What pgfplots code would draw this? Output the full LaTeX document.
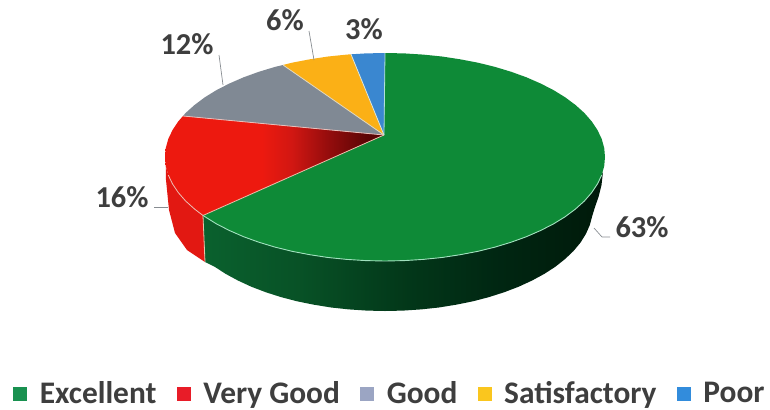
\documentclass[border=0pt]{standalone}
\usepackage{fontspec}
\setmainfont{Carlito}
\usepackage{pgfplots}
\pgfplotsset{compat=1.18}

\definecolor{cGreen}{RGB}{14,138,55}
\definecolor{cGrey}{RGB}{128,137,148}
\definecolor{cYellow}{RGB}{251,176,22}
\definecolor{cBlue}{RGB}{58,135,208}
\definecolor{cText}{RGB}{62,62,62}
\definecolor{cLeader}{RGB}{135,140,145}
\definecolor{lgGreen}{RGB}{25,145,80}
\definecolor{lgRed}{RGB}{232,28,40}
\definecolor{lgGrey}{RGB}{155,165,195}
\definecolor{lgYellow}{RGB}{250,198,30}
\definecolor{lgBlue}{RGB}{50,140,220}

% the path's bounding box takes the middle 25bp..75bp of a shading
\pgfdeclarehorizontalshading{redtop}{100bp}{
  rgb(0bp)=(0.93,0.10,0.06);
  rgb(47bp)=(0.93,0.10,0.06);
  rgb(54bp)=(0.82,0.09,0.07);
  rgb(62bp)=(0.59,0.05,0.05);
  rgb(71bp)=(0.36,0.02,0.02);
  rgb(100bp)=(0.30,0.02,0.02)}
\pgfdeclarehorizontalshading{greenwall}{100bp}{
  rgb(0bp)=(0.04,0.38,0.18);
  rgb(25bp)=(0.04,0.38,0.18);
  rgb(37bp)=(0.03,0.32,0.15);
  rgb(50bp)=(0.01,0.22,0.10);
  rgb(62bp)=(0,0.15,0.07);
  rgb(75bp)=(0,0.10,0.04);
  rgb(100bp)=(0,0.10,0.04)}

\begin{document}
\begin{tikzpicture}
\begin{axis}[
    name=chart,
    scale only axis,
    width=770bp,
    height=409bp,
    xmin=0, xmax=770,
    ymin=0, ymax=409,
    y dir=reverse,
    hide axis,
    clip=false,
    legend columns=5,
    legend image code/.code={\path[fill,#1] (0bp,-6.5bp) rectangle (13bp,6.5bp);},
    legend style={
        at={(axis cs:390,393.5)}, anchor=center,
        draw=none, fill=none,
        inner sep=0pt,
        font=\fontsize{31.5}{32}\selectfont\bfseries\color{cText},
        /tikz/every even column/.append style={column sep=18.5bp},
        /tikz/every odd column/.append style={column sep=11bp},
    },
]

% side walls
\addplot[forget plot, draw=none, shading=greenwall] coordinates {
(203,215.5) (216.5,223.9) (229.4,230.5) (243.6,236.7) (258.8,242.2) (275,247.1) (292,251.3) (309.8,254.7) (328.1,257.5) (346.8,259.4) (365.8,260.6) (385,261)
(404.2,260.6) (423.2,259.4) (441.9,257.5) (460.2,254.7) (478,251.3) (495,247.1) (511.2,242.2) (526.4,236.7) (540.6,230.5) (553.5,223.9) (565.2,216.7) (575.5,209) (584.4,201) (591.7,192.6) (597.5,183.9) (601.7,175.1) (603,172)
(601.5,185) (598.5,197) (595,207) (592.2,216.1) (589.8,225.1) (585.9,233.9) (580.5,242.6) (573.5,251) (565.1,259) (555.4,266.7) (544.3,273.9) (532.1,280.5) (518.7,286.7) (504.3,292.2) (489,297.1) (472.9,301.3) (456.1,304.7) (438.8,307.5) (421.1,309.4) (403.1,310.6) (385,311)
(366.9,310.6) (348.9,309.4) (331.2,307.5) (313.9,304.7) (297.1,301.3) (281,297.1) (265.7,292.2) (251.3,286.7) (237.9,280.5) (225.7,273.9) (214.6,266.7) (205,262)
};
\addplot[forget plot, draw=none, fill={rgb,255:red,226;green,24;blue,18}] coordinates {
(165.8,166.1) (168.3,175.1) (172.5,183.9) (178.3,192.6) (185.6,201) (194.5,209) (203,215.5) (205,262) (187,250) (175,233) (169,210) (166,180)
};

% top: Excellent 63%
\addplot[forget plot, draw=none, fill=cGreen] coordinates {
(384,135) (385,53) (404.2,53.4) (423.2,54.6) (441.9,56.5) (460.2,59.3) (478,62.7) (495,66.9) (511.2,71.8) (526.4,77.3) (540.6,83.5) (553.5,90.1) (565.2,97.3) (575.5,105) (584.4,113) (591.7,121.4) (597.5,130.1) (601.7,138.9) (604.2,147.9) (605,157)
(604.2,166.1) (601.7,175.1) (597.5,183.9) (591.7,192.6) (584.4,201) (575.5,209) (565.2,216.7) (553.5,223.9) (540.6,230.5) (526.4,236.7) (511.2,242.2) (495,247.1) (478,251.3) (460.2,254.7) (441.9,257.5) (423.2,259.4) (404.2,260.6) (385,261)
(365.8,260.6) (346.8,259.4) (328.1,257.5) (309.8,254.7) (292,251.3) (275,247.1) (258.8,242.2) (243.6,236.7) (229.4,230.5) (216.5,223.9) (203,215.5)
};
% top: Very Good 16%
\addplot[forget plot, draw=none, shading=redtop] coordinates {
(384,135) (203,215.5) (194.5,209) (185.6,201) (178.3,192.6) (172.5,183.9) (168.3,175.1) (165.8,166.1) (165,157) (165.8,147.9) (168.3,138.9) (172.5,130.1) (178.3,121.4) (183,116)
};
% top: Good 12%
\addplot[forget plot, draw=none, fill=cGrey] coordinates {
(384,135) (183,116) (185.6,113) (194.5,105) (204.8,97.3) (216.5,90.1) (229.4,83.5) (243.6,77.3) (258.8,71.8) (275,66.9) (283,65)
};
% top: Satisfactory 6%
\addplot[forget plot, draw=none, fill=cYellow] coordinates {
(384,135) (283,65) (292,62.7) (309.8,59.3) (328.1,56.5) (346.8,54.6) (351,54.3)
};
% top: Poor 3%
\addplot[forget plot, draw=none, fill=cBlue] coordinates {
(384,135) (351,54.3) (365.8,53.4) (385,53)
};

% light seams between the slices and along the front rim
\addplot[forget plot, line width=0.8pt, color={rgb,255:red,235;green,190;blue,185}] coordinates {(183,116) (384,135)};
\addplot[forget plot, line width=0.8pt, color={rgb,255:red,225;green,215;blue,190}] coordinates {(283,65) (384,135)};
\addplot[forget plot, line width=0.8pt, color={rgb,255:red,225;green,230;blue,215}] coordinates {(351,54.3) (384,135)};
\addplot[forget plot, line width=0.8pt, color={rgb,255:red,175;green,225;blue,215}] coordinates {(385,53) (384,135)};
\addplot[forget plot, line width=0.8pt, color={rgb,255:red,235;green,190;blue,170}] coordinates {(203,215.5) (384,135)};
\addplot[forget plot, line width=0.8pt, color={rgb,255:red,235;green,190;blue,180}] coordinates {(168.3,175.1) (172.5,183.9) (178.3,192.6) (185.6,201) (194.5,209) (203,215.5)};
\addplot[forget plot, line width=0.8pt, color={rgb,255:red,225;green,200;blue,170}] coordinates {(203,215.5) (205,262)};
\addplot[forget plot, line width=0.9pt, color={rgb,255:red,160;green,225;blue,190}] coordinates {
(203,215.5) (216.5,223.9) (229.4,230.5) (243.6,236.7) (258.8,242.2) (275,247.1) (292,251.3) (309.8,254.7) (328.1,257.5) (346.8,259.4) (365.8,260.6) (385,261)
(404.2,260.6) (423.2,259.4) (441.9,257.5) (460.2,254.7) (478,251.3) (495,247.1) (511.2,242.2) (526.4,236.7) (540.6,230.5) (553.5,223.9) (565.2,216.7) (575.5,209) (584.4,201) (591.7,192.6) (597.5,183.9) (601.7,175.1)
};

% leader lines
\addplot[forget plot, line width=0.7pt, color=cLeader] coordinates {(219,55) (223,85)};
\addplot[forget plot, line width=0.7pt, color=cLeader] coordinates {(309,31) (314,60)};
\addplot[forget plot, line width=0.7pt, color=cLeader] coordinates {(154,207) (168,207)};
\addplot[forget plot, line width=0.7pt, color=cLeader] coordinates {(610,237) (602,237) (594,228)};

% percentage labels
\begin{scope}[every node/.style={font=\fontsize{30.5}{31}\selectfont\bfseries, text=cText, inner sep=0pt}]
\node at (axis cs:187,44) {12\%};
\node at (axis cs:285,20) {6\%};
\node at (axis cs:364,29) {3\%};
\node at (axis cs:122,197) {16\%};
\node at (axis cs:642,227) {63\%};
\end{scope}

% legend
\addlegendimage{color=lgGreen}
\addlegendentry{Excellent}
\addlegendimage{color=lgRed}
\addlegendentry{Very Good}
\addlegendimage{color=lgGrey}
\addlegendentry{Good}
\addlegendimage{color=lgYellow}
\addlegendentry{Satisfactory}
\addlegendimage{color=lgBlue}
\addlegendentry{Poor}
\end{axis}
\pgfresetboundingbox
\path[use as bounding box] (chart.south west) rectangle (chart.north east);
\end{tikzpicture}
\end{document}
